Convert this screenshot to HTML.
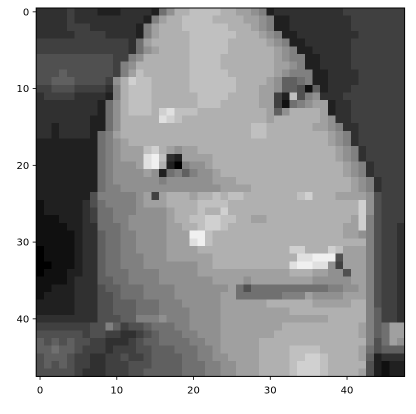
<!DOCTYPE html>
<html><head><meta charset="utf-8"><style>
html,body{margin:0;padding:0;background:#fff;}
svg{display:block;font-family:"DejaVu Sans","Liberation Sans",sans-serif;}
</style></head><body>
<svg id="chart" width="416" height="414" viewBox="0 0 416 414" xmlns="http://www.w3.org/2000/svg">
<g id="cells" shape-rendering="crispEdges"></g>
<rect x="36.2" y="8" width="368.4" height="368.4" fill="none" stroke="#000" stroke-width="1"/>
<g id="ticks"></g>
</svg>
<script>
const rows = [
"3333433322233332"+"79bbcccc"+"bbaa98"+"233333333344444444",
"333343333333332"+"8abbccccbbbbaa98"+"22333333334444444",
"33334443333332"+"8abbbccccccbbba98"+"22333333334444444",
"33333444433332"+"8abbbbccccccbbba98"+"2233333333444444",
"4444444444443"+"7abbbbbcccccbbbbba98"+"223333334444444",
"4444444444443"+"79abbbbcccccbbbbbba98"+"22333334444444",
"555555555544"+"89bbbbbbccccbbbbbbba988"+"2233334444444",
"55555555554"+"89bbbbbbbccccbbbbbbbaa98"+"2233334444444",
"55565555554"+"8acbbbbbbcccccbbbbbba9888"+"223333444444",
"5566655554"+"9bdccbbbbbccccccbbbb"+"a96678"+"223333444444",
"4455544443"+"8bcccbbbbbccccccbbba"+"a966516"+"23334444444",
"3444433332"+"8bcccbbbbbbccccbbbba"+"a42c589"+"33344444444",
"333333332"+"79bcccbbbbbbcccbbbbba"+"a41789aa"+"2334444444",
"333333332"+"79bcccb"+"de"+"cccbbbbbbbbb"+"a69bbbba"+"2334444444",
"333333322"+"79bbbbb"+"ed"+"cbbbbbbbbbbb"+"abbbbbba9"+"334444444",
"332333322"+"79bbbbbbbbbbbbbbbbbcc"+"bbbbbbaa98"+"33444444",
"33233332"+"78abbbbbbbbbbbbbbbbbcc"+"bbbbbbbba98"+"3444444",
"22222222"+"789abbbbbbbbbbbbbbbbbb"+"bbbbbbbba98"+"3444444",
"22222222"+"789aaa"+"cd"+"ba9aabbbbbbbbb"+"bbbbbbbbba98"+"344444",
"22222222"+"789aaa"+"ef"+"c32aaaabbbbbbb"+"bbbbbbbbba98"+"344444",
"22222222"+"78999a"+"ef"+"b20899abbbbbbb"+"bbbbbbbbbba98"+"34444",
"22222222"+"789999"+"a9"+"2786899abbbbbb"+"bbbbbbbbbba98"+"34444",
"22222222"+"789999"+"99"+"8999999aaabbbb"+"bbbbbbbbbbba98"+"3444",
"22222222"+"7889999999999999aaaabb"+"bbbbbbbbbbba98"+"3444",
"22222225"+"888889a4a"+"bbbabbc"+"bccbbbbbbbcdbbbaaaa9"+"5444",
"12222235"+"788889aaa"+"bbbbccc"+"cbbbbbbbbbbbbbbbbbd9"+"5444",
"12222234"+"778889999"+"abbbcbb"+"dbbbbbbbbbbbbbbbbbd9"+"5444",
"11122234"+"778899999"+"abbccdd"+"ccbbaabbbbbbbbbbbad8"+"5444",
"11112233"+"777899999"+"aabbcdd"+"cbbbbbbbbbbbbbbbaad8"+"5443",
"11111233"+"677889999"+"aaaffcb"+"bbbbbbbbbbbbbbbbaa98"+"5443",
"11111233"+"677889999"+"aaaefcb"+"bbbbbbbbbbbbbbbbbbb8"+"5443",
"01111233"+"677889999"+"aaaabbb"+"bbbbbbbbbddbbbdcaaa8"+"5443",
"01111233"+"677888999"+"aaaaaab"+"bbbbbbbbbbeefff5aaa8"+"5443",
"00111233"+"677888999"+"9999aab"+"bbbbbbbbbeffee94aaa8"+"5443",
"01112233"+"677788889"+"9999aaa"+"aaaaaaaaabbbaa995aa8"+"5443",
"11112333"+"667788889"+"999999a"+"aaa9aaaaaaaa99999aa8"+"5443",
"11222333"+"566777888"+"8999999"+"9a7577777777778899a8"+"5443",
"12222333"+"556777888"+"8999999"+"aa777777888a9999aaa8"+"5443",
"22222333"+"556667778"+"8899999"+"aaaaaabbbbbbaaaaabb8"+"5443",
"22222333"+"556667778"+"8889999"+"aaaaaaaaabbbbbbbbbb8"+"6443",
"33333333"+"555668889"+"8889999"+"aaaaaaaaaaaaaabbbbb8"+"6443",
"44444445"+"586455677"+"7889999"+"aaaaaaaabbbbbbbbbba8"+"67aa",
"55555545"+"544334567"+"7788999"+"aaaaaaabbbbbbbbbbba8"+"67aa",
"65656554"+"433345667"+"7778899"+"aaaaabbbbbbbbbbbbbb8"+"57a9",
"66766544"+"434445566"+"6777889"+"aaaaabbbbccccbbbbba7"+"5666",
"56665443"+"344544566"+"6677889"+"9aaaabbbbccddcbbbba6"+"2333",
"56565443"+"344455566"+"6677788"+"99aaabbbbcdddcbbbbb5"+"2122",
"55555433"+"344455666"+"6677788"+"99aaabbbbcdddcbbbba5"+"2122"
];
const xTicks = [0,10,20,30,40];
const yTicks = [0,10,20,30,40];
const tickLabels = ["0","10","20","30","40"];

const NS="http://www.w3.org/2000/svg";
const N=48, X0=36.2, Y0=8, W=368.4;
const cs=W/N;
function xPos(c){return X0+c*cs;}
function yPos(r){return Y0+r*cs;}
const cells=document.getElementById('cells');
rows.forEach((s,r)=>{
  let str=s;
  while(str.length<N) str+=str[str.length-1];
  str=str.slice(0,N);
  for(let c=0;c<N;c++){
    const v=parseInt(str[c],16)*16;
    const el=document.createElementNS(NS,'rect');
    
    
    el.setAttribute('x',xPos(c).toFixed(2));
    el.setAttribute('y',yPos(r).toFixed(2));
    el.setAttribute('width',(cs+0.6).toFixed(2));
    el.setAttribute('height',(cs+0.6).toFixed(2));
    el.setAttribute('fill',`rgb(${v},${v},${v})`);
    cells.appendChild(el);
  }
});
const ticks=document.getElementById('ticks');
xTicks.forEach((t,i)=>{
  const x=xPos(t+0.5);
  const ln=document.createElementNS(NS,'line');
  
  
  ln.setAttribute('x1',x);ln.setAttribute('x2',x);
  ln.setAttribute('y1',Y0+W);ln.setAttribute('y2',Y0+W+3.5);
  ln.setAttribute('stroke','#000');ln.setAttribute('stroke-width','0.8');
  ticks.appendChild(ln);
  const tx=document.createElementNS(NS,'text');
  
  
  tx.setAttribute('x',x);tx.setAttribute('y',Y0+W+17);
  tx.setAttribute('text-anchor','middle');tx.setAttribute('font-size','10');
  tx.textContent=tickLabels[i];
  ticks.appendChild(tx);
});
yTicks.forEach((t,i)=>{
  const y=yPos(t+0.5);
  const ln=document.createElementNS(NS,'line');
  
  
  ln.setAttribute('x1',X0-3.5);ln.setAttribute('x2',X0);
  ln.setAttribute('y1',y);ln.setAttribute('y2',y);
  ln.setAttribute('stroke','#000');ln.setAttribute('stroke-width','0.8');
  ticks.appendChild(ln);
  const tx=document.createElementNS(NS,'text');
  
  
  tx.setAttribute('x',X0-7);tx.setAttribute('y',y+3.6);
  tx.setAttribute('text-anchor','end');tx.setAttribute('font-size','10');
  tx.textContent=tickLabels[i];
  ticks.appendChild(tx);
});
</script>
</body></html>
